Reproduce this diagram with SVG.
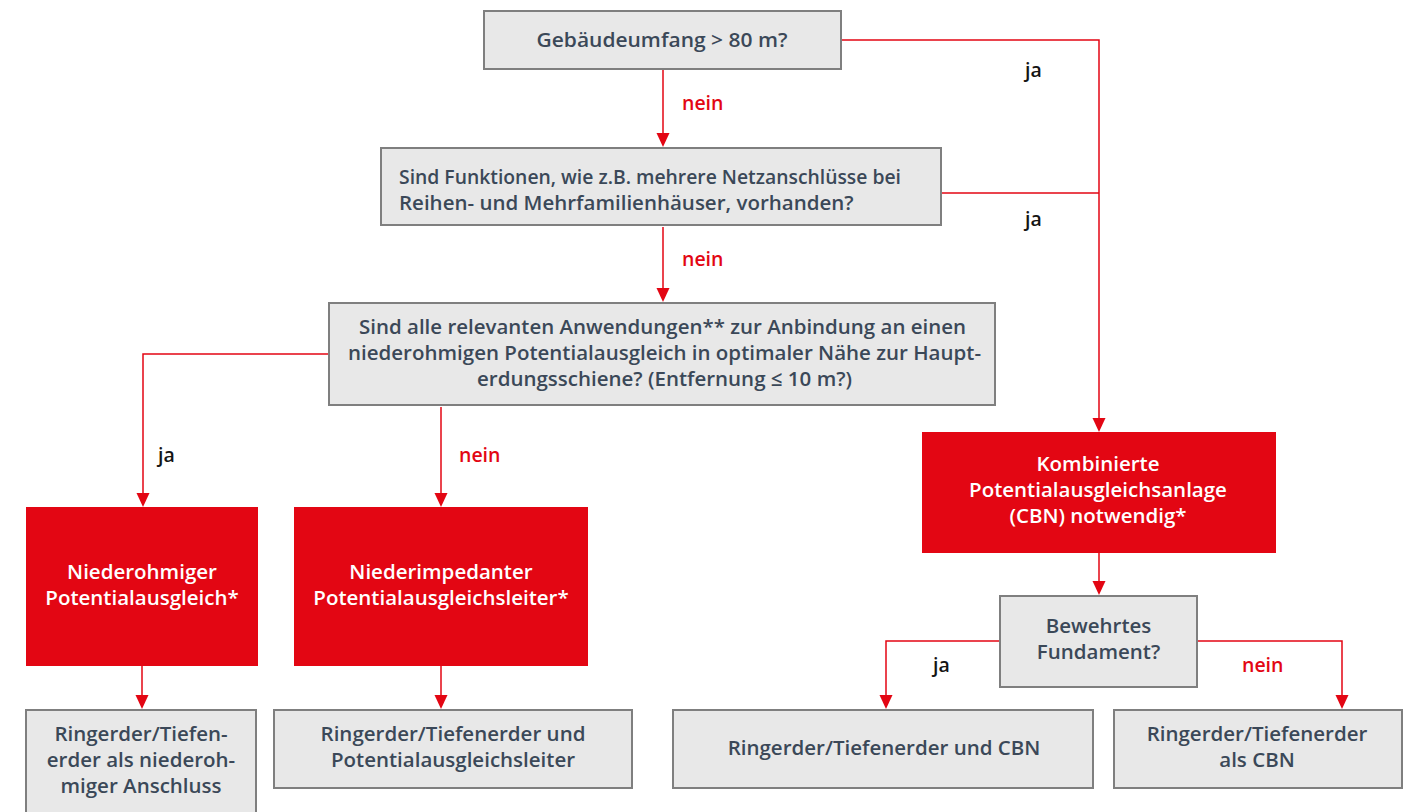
<svg xmlns="http://www.w3.org/2000/svg" width="1411" height="812" viewBox="0 0 1411 812">
<style>
.g{fill:#E8E8E8;stroke:#7F7F7F;stroke-width:2}
.r{fill:#E30613}
.t{font-family:"Open Sans","Liberation Sans",sans-serif;font-weight:600;font-size:20.5px;fill:#3B4858}
.c{text-anchor:middle}
.w{fill:#FFFFFF}
.ja{font-family:"Open Sans","Liberation Sans",sans-serif;font-weight:600;font-size:19.5px;fill:#141414}
.nein{font-family:"Open Sans","Liberation Sans",sans-serif;font-weight:600;font-size:19.5px;fill:#E30613}
.l{fill:none;stroke:#E30613;stroke-width:1.5}
.ah{fill:#E30613}
</style>
<rect width="1411" height="812" fill="#FFFFFF"/>
<g id="connectors">
<path class="l" d="M663,70 V140"/>
<path class="l" d="M663,227 V295"/>
<path class="l" d="M842,40 H1099 V425"/>
<path class="l" d="M942,193 H1099"/>
<path class="l" d="M328,354 H143 V500"/>
<path class="l" d="M441,407 V500"/>
<path class="l" d="M142,666 V702"/>
<path class="l" d="M441,666 V702"/>
<path class="l" d="M1099,553 V588"/>
<path class="l" d="M1000,641 H886 V702"/>
<path class="l" d="M1197,641 H1342 V702"/>
<path class="ah" d="M656.5,133 L669.5,133 L663,147 Z"/>
<path class="ah" d="M656.5,288 L669.5,288 L663,302 Z"/>
<path class="ah" d="M1092.5,418 L1105.5,418 L1099,432 Z"/>
<path class="ah" d="M136.5,493 L149.5,493 L143,507 Z"/>
<path class="ah" d="M434.5,493 L447.5,493 L441,507 Z"/>
<path class="ah" d="M135.5,695 L148.5,695 L142,709 Z"/>
<path class="ah" d="M434.5,695 L447.5,695 L441,709 Z"/>
<path class="ah" d="M1092.5,581 L1105.5,581 L1099,595 Z"/>
<path class="ah" d="M879.5,695 L892.5,695 L886,709 Z"/>
<path class="ah" d="M1335.5,695 L1348.5,695 L1342,709 Z"/>
<text class="nein" x="682" y="110">nein</text>
<text class="nein" x="682" y="266">nein</text>
<text class="nein" x="459" y="462">nein</text>
<text class="nein" x="1242" y="672">nein</text>
<text class="ja" x="1025" y="77">ja</text>
<text class="ja" x="1025" y="226">ja</text>
<text class="ja" x="158" y="462">ja</text>
<text class="ja" x="933" y="672">ja</text>
</g>
<g id="q1">
<rect class="g" x="484" y="11" width="357" height="58"/>
<text class="t c" x="662" y="47" textLength="251" lengthAdjust="spacingAndGlyphs">Gebäudeumfang &gt; 80 m?</text>
</g>
<g id="q2">
<rect class="g" x="381" y="148" width="560" height="77"/>
<text class="t" x="399" y="184" textLength="502" lengthAdjust="spacingAndGlyphs">Sind Funktionen, wie z.B. mehrere Netzanschlüsse bei</text>
<text class="t" x="399" y="210">Reihen- und Mehrfamilienhäuser, vorhanden?</text>
</g>
<g id="q3">
<rect class="g" x="329" y="303" width="666" height="102"/>
<text class="t c" x="662.5" y="334" textLength="607" lengthAdjust="spacingAndGlyphs">Sind alle relevanten Anwendungen** zur Anbindung an einen</text>
<text class="t c" x="664.5" y="360" textLength="633" lengthAdjust="spacingAndGlyphs">niederohmigen Potentialausgleich in optimaler Nähe zur Haupt-</text>
<text class="t c" x="664.5" y="386" textLength="375" lengthAdjust="spacingAndGlyphs">erdungsschiene? (Entfernung ≤ 10 m?)</text>
</g>
<g id="r1">
<rect class="r" x="26" y="507" width="232" height="159"/>
<text class="t c w" x="142" y="579">Niederohmiger</text>
<text class="t c w" x="142" y="605">Potentialausgleich*</text>
</g>
<g id="r2">
<rect class="r" x="294" y="507" width="294" height="159"/>
<text class="t c w" x="441" y="579">Niederimpedanter</text>
<text class="t c w" x="441" y="605">Potentialausgleichsleiter*</text>
</g>
<g id="r3">
<rect class="r" x="922" y="432" width="354" height="121"/>
<text class="t c w" x="1098" y="471">Kombinierte</text>
<text class="t c w" x="1098" y="497">Potentialausgleichsanlage</text>
<text class="t c w" x="1098" y="523">(CBN) notwendig*</text>
</g>
<g id="q4">
<rect class="g" x="1000" y="596" width="197" height="91"/>
<text class="t c" x="1098.5" y="633">Bewehrtes</text>
<text class="t c" x="1098.5" y="659">Fundament?</text>
</g>
<g id="e1">
<rect class="g" x="26" y="710" width="230" height="110"/>
<text class="t c" x="141" y="741">Ringerder/Tiefen-</text>
<text class="t c" x="141" y="767">erder als niederoh-</text>
<text class="t c" x="141" y="793">miger Anschluss</text>
</g>
<g id="e2">
<rect class="g" x="274" y="710" width="358" height="78"/>
<text class="t c" x="453" y="741">Ringerder/Tiefenerder und</text>
<text class="t c" x="453" y="767">Potentialausgleichsleiter</text>
</g>
<g id="e3">
<rect class="g" x="673" y="710" width="420" height="78"/>
<text class="t c" x="884" y="755">Ringerder/Tiefenerder und CBN</text>
</g>
<g id="e4">
<rect class="g" x="1114" y="710" width="288" height="78"/>
<text class="t c" x="1257" y="741">Ringerder/Tiefenerder</text>
<text class="t c" x="1257" y="767">als CBN</text>
</g>
</svg>
